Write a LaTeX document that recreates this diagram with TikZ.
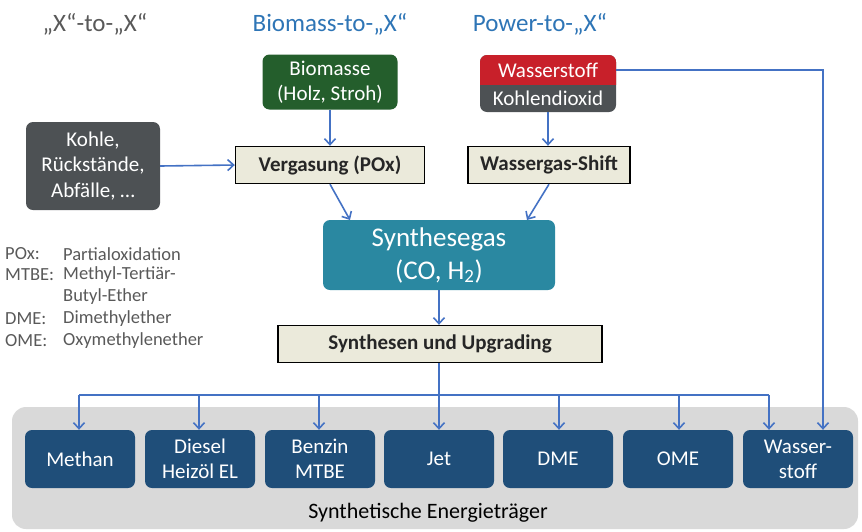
\documentclass[tikz,border=0pt]{standalone}
\usepackage{fontspec}
\setmainfont{Carlito}
\usetikzlibrary{arrows.meta}
\definecolor{tgray}{HTML}{595959}
\definecolor{tblue}{HTML}{2E75B6}
\definecolor{bgreen}{HTML}{245E2C}
\definecolor{bred}{HTML}{C8202A}
\definecolor{bdark}{HTML}{4D5154}
\definecolor{bteal}{HTML}{2A88A1}
\definecolor{bnavy}{HTML}{1F4E79}
\definecolor{bbeige}{HTML}{EBEADB}
\definecolor{lblue}{HTML}{4472C4}
\definecolor{lgray}{HTML}{D9D9D9}
\tikzset{
  fs/.style 2 args={font=\fontsize{#1}{#2}\selectfont},
  srcbox/.style={rounded corners=7pt, text=white, align=center, inner sep=0pt, fs={21}{25.5}},
  procbox/.style={draw=black, line width=1.4pt, fill=bbeige, inner sep=0pt, font=\fontsize{21}{25}\selectfont\bfseries, text=black!85},
  prodbox/.style={rounded corners=7pt, fill=bnavy, text=white, align=center, inner sep=0pt, minimum width=110pt, minimum height=58pt, fs={21}{25}},
  conn/.style={draw=lblue, line width=1.6pt, -{Straight Barb[length=6pt,width=11pt]}},
  line/.style={draw=lblue, line width=1.6pt},
  leg/.style={anchor=west, text=tgray, fs={18.5}{21}, inner sep=0pt}
}
\begin{document}
\begin{tikzpicture}[x=1pt,y=-1pt]
\useasboundingbox (0,0) rectangle (862,531);
% titles
\node[text=tgray, fs={25}{30}] (t1) at (95,24) {„X“-to-„X“};
\node[text=tblue, fs={25}{30}] (t2) at (330,24) {Biomass-to-„X“};
\node[text=tblue, fs={25}{30}] (t3) at (540,24) {Power-to-„X“};
% background
\node[fill=lgray, rounded corners=14pt, minimum width=846pt, minimum height=122pt, inner sep=0pt] (bg) at (435,468) {};
\node[fs={22}{26}, text=black] (se) at (428,513) {Synthetische Energieträger};
% source boxes
\node[srcbox, fill=bgreen, minimum width=135pt, minimum height=55pt] (bio) at (330,82) {Biomasse\\(Holz, Stroh)};
\node[srcbox, fill=bdark, minimum width=134pt, minimum height=88pt] (kohle) at (93,166) {Kohle,\\Rückstände,\\Abfälle, …};
% power box
\fill[bdark, rounded corners=7pt] (480,55) rectangle (616,112);
\begin{scope}
\clip (480,55) rectangle (616,84);
\fill[bred, rounded corners=7pt] (480,55) rectangle (616,112);
\end{scope}
\node[fs={21}{25}, text=white, inner sep=0pt, minimum width=136pt, minimum height=29pt] (wst) at (548,70) {Wasserstoff};
\node[fs={21}{25}, text=white, inner sep=0pt, minimum width=136pt, minimum height=28pt] (kdx) at (548,98) {Kohlendioxid};
% process boxes
\node[procbox, minimum width=189pt, minimum height=37pt] (verg) at (330,165) {Vergasung (POx)};
\node[procbox, minimum width=162pt, minimum height=37pt] (wgs) at (549,165) {Wassergas-Shift};
\node[srcbox, fill=bteal, minimum width=232pt, minimum height=70pt, fs={27}{33}] (syn) at (439,255) {Synthesegas\\(CO, H\textsubscript{2})};
\node[procbox, minimum width=324pt, minimum height=37pt] (sup) at (440,344) {Synthesen und Upgrading};
% products
\node[prodbox] (p1) at (80,459) {Methan};
\node[prodbox] (p2) at (200,459) {Diesel\\Heizöl EL};
\node[prodbox] (p3) at (320,459) {Benzin\\MTBE};
\node[prodbox] (p4) at (439,459) {Jet};
\node[prodbox] (p5) at (558,459) {DME};
\node[prodbox] (p6) at (678,459) {OME};
\node[prodbox] (p7) at (798,459) {Wasser-\\stoff};
% legend
\node[leg] (l1a) at (5,254) {POx:};
\node[leg] (l1b) at (63,254) {Partialoxidation};
\node[leg] (l2a) at (5,275) {MTBE:};
\node[leg] (l2b) at (63,275) {Methyl-Tertiär-};
\node[leg] (l3b) at (63,297) {Butyl-Ether};
\node[leg] (l4a) at (5,319) {DME:};
\node[leg] (l4b) at (63,319) {Dimethylether};
\node[leg] (l5a) at (5,341) {OME:};
\node[leg] (l5b) at (63,341) {Oxymethylenether};
% connectors
\draw[conn] (bio.south) -- (verg.north);
\draw[conn] (kohle.east) -- (verg.west);
\draw[conn] (kdx.south) -- (wgs.north -| kdx.south);
\draw[conn] (verg.south) -- (350,220);
\draw[conn] (wgs.south) -- (527,220);
\draw[conn] (syn.south) -- (sup.north -| syn.south);
\coordinate (hl) at (79,395);
\coordinate (hr) at (769,395);
\draw[line] (hl) -- (hr);
\draw[conn] (sup.south -| p4.north) -- (p4.north);
\draw[conn] (hl) -- (p1.north -| hl);
\draw[conn] (199,395) -- (p2.north -| 199,395);
\draw[conn] (319,395) -- (p3.north -| 319,395);
\draw[conn] (559,395) -- (p5.north -| 559,395);
\draw[conn] (679,395) -- (p6.north -| 679,395);
\draw[conn] (hr) -- (p7.north -| hr);
\coordinate (wc) at (823,70);
\draw[conn] (wst.east) -- (wc) -- (p7.north -| wc);
\end{tikzpicture}
\end{document}
